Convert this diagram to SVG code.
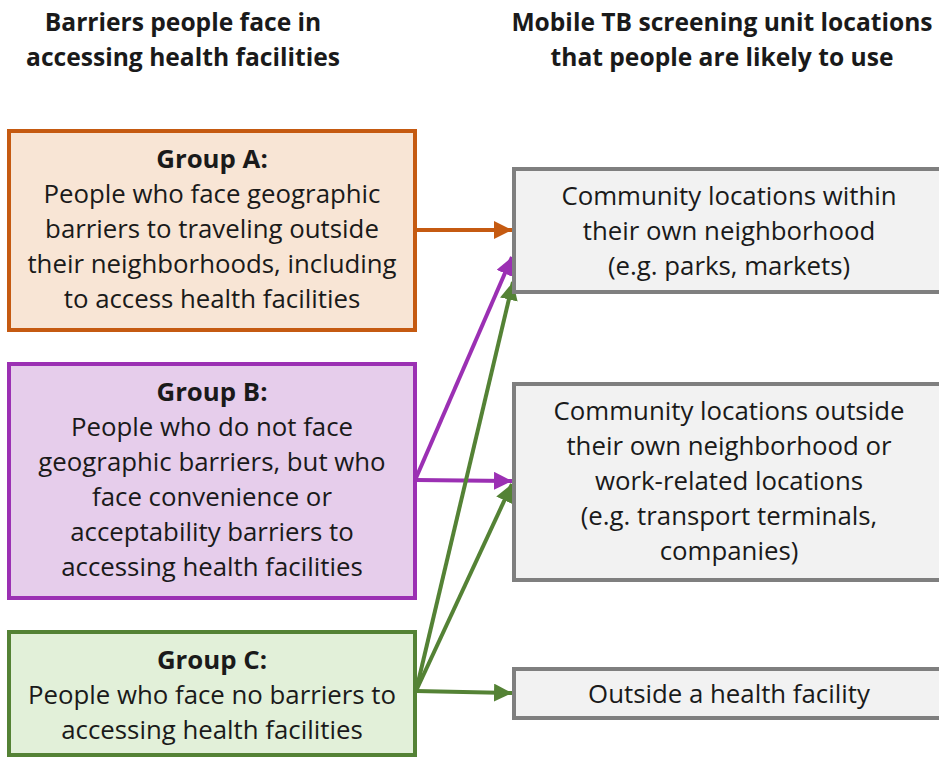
<svg xmlns="http://www.w3.org/2000/svg" width="939" height="758" viewBox="0 0 939 758">
<defs>
<style>
.t{font-family:"Open Sans","Liberation Sans",sans-serif;font-size:25.8px;fill:#1a1a1a;text-anchor:middle}
.b{font-weight:bold}
.h{font-family:"Open Sans","Liberation Sans",sans-serif;font-size:24.6px;font-weight:bold;fill:#1a1a1a;text-anchor:middle}
.r{fill:#f2f2f2;stroke:#7f7f7f;stroke-width:4}
.c{fill:none;stroke-width:4}
</style>
<marker id="mo" viewBox="0 0 10 10" refX="10" refY="5" markerWidth="4.5" markerHeight="4.5" orient="auto" markerUnits="strokeWidth"><path d="M0,0 L10,5 L0,10 z" fill="#c55a11"/></marker>
<marker id="mp" viewBox="0 0 10 10" refX="10" refY="5" markerWidth="4.5" markerHeight="4.5" orient="auto" markerUnits="strokeWidth"><path d="M0,0 L10,5 L0,10 z" fill="#9b30b3"/></marker>
<marker id="mg" viewBox="0 0 10 10" refX="10" refY="5" markerWidth="4.5" markerHeight="4.5" orient="auto" markerUnits="strokeWidth"><path d="M0,0 L10,5 L0,10 z" fill="#548235"/></marker>
</defs>
<rect width="939" height="758" fill="#fff"/>
<g id="headers">
<text class="h" x="183" y="31">Barriers people face in</text>
<text class="h" x="183" y="66">accessing health facilities</text>
<text class="h" x="722" y="31">Mobile TB screening unit locations</text>
<text class="h" x="722" y="66">that people are likely to use</text>
</g>
<g id="connectors">
<line class="c" stroke="#c55a11" x1="415" y1="230" x2="512" y2="230" marker-end="url(#mo)"/>
<line class="c" stroke="#9b30b3" x1="416" y1="480" x2="512" y2="481" marker-end="url(#mp)"/>
<line class="c" stroke="#9b30b3" x1="416" y1="478" x2="512" y2="257" marker-end="url(#mp)"/>
<line class="c" stroke="#548235" x1="416" y1="691" x2="512" y2="693" marker-end="url(#mg)"/>
<line class="c" stroke="#548235" x1="416" y1="691" x2="512" y2="484" marker-end="url(#mg)"/>
<line class="c" stroke="#548235" x1="416" y1="691" x2="513" y2="282" marker-end="url(#mg)"/>
</g>
<g id="groupA">
<rect x="9" y="131" width="406" height="199" fill="#f8e5d5" stroke="#c55a11" stroke-width="4"/>
<text class="t b" x="212" y="168">Group A:</text>
<text class="t" x="212" y="203">People who face geographic</text>
<text class="t" x="212" y="238">barriers to traveling outside</text>
<text class="t" x="212" y="273">their neighborhoods, including</text>
<text class="t" x="212" y="308">to access health facilities</text>
</g>
<g id="groupB">
<rect x="9" y="364" width="406" height="234" fill="#e6cdeb" stroke="#9b30b3" stroke-width="4"/>
<text class="t b" x="212" y="401">Group B:</text>
<text class="t" x="212" y="436">People who do not face</text>
<text class="t" x="212" y="471">geographic barriers, but who</text>
<text class="t" x="212" y="506">face convenience or</text>
<text class="t" x="212" y="541">acceptability barriers to</text>
<text class="t" x="212" y="576">accessing health facilities</text>
</g>
<g id="groupC">
<rect x="9" y="632" width="406" height="123" fill="#e2f0d9" stroke="#548235" stroke-width="4"/>
<text class="t b" x="212" y="669">Group C:</text>
<text class="t" x="212" y="704">People who face no barriers to</text>
<text class="t" x="212" y="739">accessing health facilities</text>
</g>
<g id="loc1">
<rect class="r" x="514" y="169" width="430" height="123"/>
<text class="t" x="729" y="205">Community locations within</text>
<text class="t" x="729" y="240">their own neighborhood</text>
<text class="t" x="729" y="275">(e.g. parks, markets)</text>
</g>
<g id="loc2">
<rect class="r" x="514" y="384" width="430" height="196"/>
<text class="t" x="729" y="420">Community locations outside</text>
<text class="t" x="729" y="455">their own neighborhood or</text>
<text class="t" x="729" y="490">work-related locations</text>
<text class="t" x="729" y="525">(e.g. transport terminals,</text>
<text class="t" x="729" y="560">companies)</text>
</g>
<g id="loc3">
<rect class="r" x="514" y="669" width="430" height="49"/>
<text class="t" x="729" y="703">Outside a health facility</text>
</g>
</svg>
